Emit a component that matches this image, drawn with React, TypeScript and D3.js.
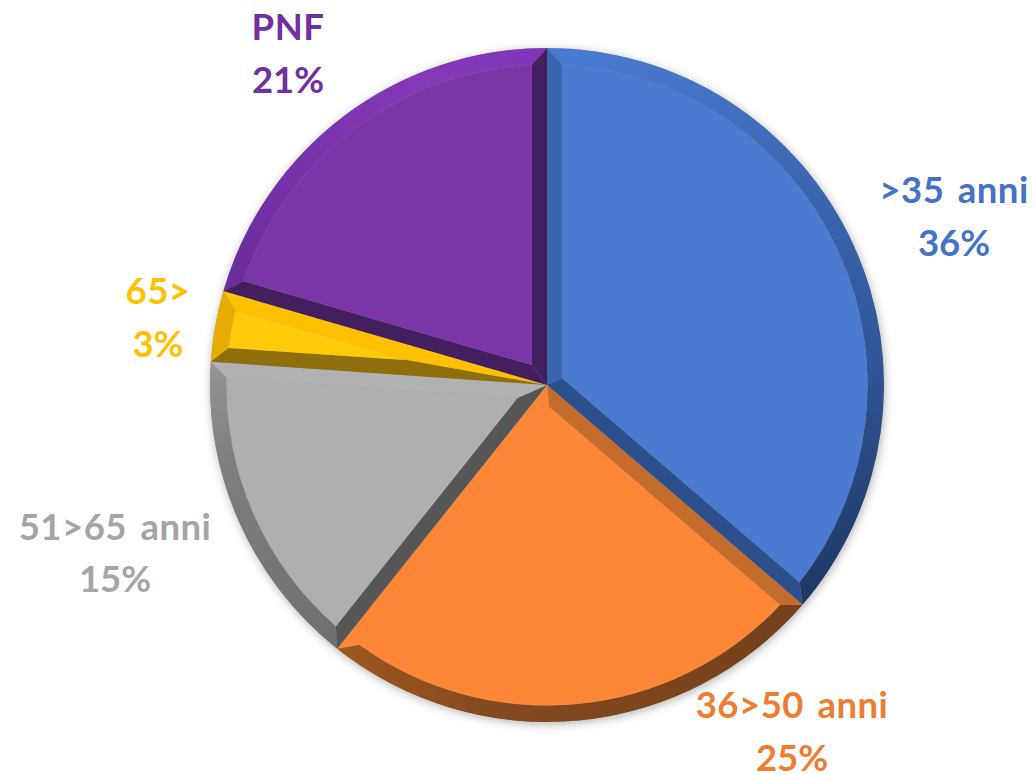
import { useRef, useEffect } from 'react'
import * as d3 from 'd3'

const categories = ['>35 anni', '36>50 anni', '51>65 anni', '65>', 'PNF']
const percentLabels = ['36%', '25%', '15%', '3%', '21%']
// slice sizes (labels are rounded)
const sliceValues = [36.3, 24.4, 15.4, 3.4, 20.5]

const labelColors = ['#4472c4', '#ed7d31', '#a5a5a5', '#ffc000', '#7030a0']
const faceColors = ['#4a7bd0', '#fe8637', '#afafaf', '#ffca08', '#7a36a6']
const startEdgeColors = ['#3a66ad', '#c46c2b', '#565656', '#8e6f0b', '#431f60']
const endEdgeColors = ['#2c4f8e', '#fe8637', '#b1b1b1', '#ffc000', '#431f60']
const rimFrom = ['#4a7bd3', '#74411a', '#6f6f6f', '#e5ad00', '#6a2d9c']
const rimMid = ['#2f5597', '#85491f', '#7f7f7f', '#e5ad00', '#8538b8']
const rimTo = ['#1f3864', '#a0581f', '#959595', '#e5ad00', '#7f35b8']

const WIDTH = 1035
const HEIGHT = 775
const CX = 547
const CY = 385
const RADIUS = 337
const BEVEL = 15
const RIM = 16.5

// label centres relative to the pie centre
const labelOffsets = [
  [407, -170],
  [245, 345],
  [-432, 166.5],
  [-389, -69],
  [-259, -333],
]

export default function App() {
  const svgRef = useRef<SVGSVGElement>(null)

  useEffect(() => {
    const svg = d3.select(svgRef.current)
    svg.selectAll('*').remove()

    const defs = svg.append('defs')
    const shadow = defs
      .append('filter')
      .attr('id', 'pie-shadow')
      .attr('x', '-10%')
      .attr('y', '-10%')
      .attr('width', '120%')
      .attr('height', '120%')
    shadow
      .append('feDropShadow')
      .attr('dx', 1)
      .attr('dy', 2)
      .attr('stdDeviation', 5)
      .attr('flood-color', '#000')
      .attr('flood-opacity', 0.3)

    const pie = d3
      .pie<number>()
      .sort(null)
      .value((d) => d)
    const slices = pie(sliceValues)

    const g = svg.append('g').attr('transform', `translate(${CX},${CY})`)

    // d3.path angles start at +x, pie angles start at the top
    const pt = (a: number, r: number) => [Math.sin(a) * r, -Math.cos(a) * r]
    const canvas = (a: number) => a - Math.PI / 2
    const inner = RADIUS - RIM
    const delta = Math.asin(BEVEL / inner)

    const shape = (draw: (p: d3.Path) => void) => {
      const p = d3.path()
      draw(p)
      p.closePath()
      return p.toString()
    }

    // silhouette first, it carries the drop shadow
    g.append('circle').attr('r', RADIUS).attr('fill', '#999').attr('filter', 'url(#pie-shadow)')

    slices.forEach((s, i) => {
      const a0 = s.startAngle
      const a1 = s.endAngle
      const half = (a1 - a0) / 2
      const mid = a0 + half
      const apex = pt(mid, BEVEL / Math.sin(half))
      const o0 = pt(a0, RADIUS)
      const o1 = pt(a1, RADIUS)
      const n0 = pt(a0 + delta, inner)
      const n1 = pt(a1 - delta, inner)

      const gradId = `rim-${i}`
      const grad = defs
        .append('linearGradient')
        .attr('id', gradId)
        .attr('gradientUnits', 'userSpaceOnUse')
        .attr('x1', o0[0])
        .attr('y1', o0[1])
        .attr('x2', o1[0])
        .attr('y2', o1[1])
      grad.append('stop').attr('offset', 0).attr('stop-color', rimFrom[i])
      grad.append('stop').attr('offset', 0.7).attr('stop-color', rimMid[i])
      grad.append('stop').attr('offset', 1).attr('stop-color', rimTo[i])

      const slice = g.append('g').attr('class', 'slice')

      // outer rim
      slice
        .append('path')
        .attr('fill', `url(#${gradId})`)
        .attr(
          'd',
          shape((p) => {
            p.moveTo(o0[0], o0[1])
            p.arc(0, 0, RADIUS, canvas(a0), canvas(a1))
            p.lineTo(n1[0], n1[1])
            p.arc(0, 0, inner, canvas(a1 - delta), canvas(a0 + delta), true)
          })
        )

      // radial bevels
      slice
        .append('path')
        .attr('fill', startEdgeColors[i])
        .attr(
          'd',
          shape((p) => {
            p.moveTo(0, 0)
            p.lineTo(o0[0], o0[1])
            p.lineTo(n0[0], n0[1])
            p.lineTo(apex[0], apex[1])
          })
        )
      slice
        .append('path')
        .attr('fill', endEdgeColors[i])
        .attr(
          'd',
          shape((p) => {
            p.moveTo(0, 0)
            p.lineTo(o1[0], o1[1])
            p.lineTo(n1[0], n1[1])
            p.lineTo(apex[0], apex[1])
          })
        )

      // flat face
      slice
        .append('path')
        .attr('fill', faceColors[i])
        .attr(
          'd',
          shape((p) => {
            p.moveTo(apex[0], apex[1])
            p.lineTo(n0[0], n0[1])
            p.arc(0, 0, inner, canvas(a0 + delta), canvas(a1 - delta))
          })
        )
    })

    // Labels
    const labels = svg
      .append('g')
      .attr('font-family', 'Lato, sans-serif')
      .attr('font-weight', 700)
      .attr('font-size', 36.5)
      .attr('text-anchor', 'middle')

    categories.forEach((name, i) => {
      const [dx, dy] = labelOffsets[i]
      const t = labels
        .append('text')
        .attr('transform', `translate(${CX + dx},${CY + dy})`)
        .attr('fill', labelColors[i])
      t.append('tspan')
        .attr('x', 0)
        .attr('y', -12)
        .attr('letter-spacing', 0.5)
        .attr('word-spacing', 4)
        .text(name)
      t.append('tspan').attr('x', 0).attr('y', 40.5).text(percentLabels[i])
    })
  }, [])

  return (
    <svg
      ref={svgRef}
      width={WIDTH}
      height={HEIGHT}
      style={{ position: 'absolute', left: 0, top: 0, background: '#fff' }}
    />
  )
}
